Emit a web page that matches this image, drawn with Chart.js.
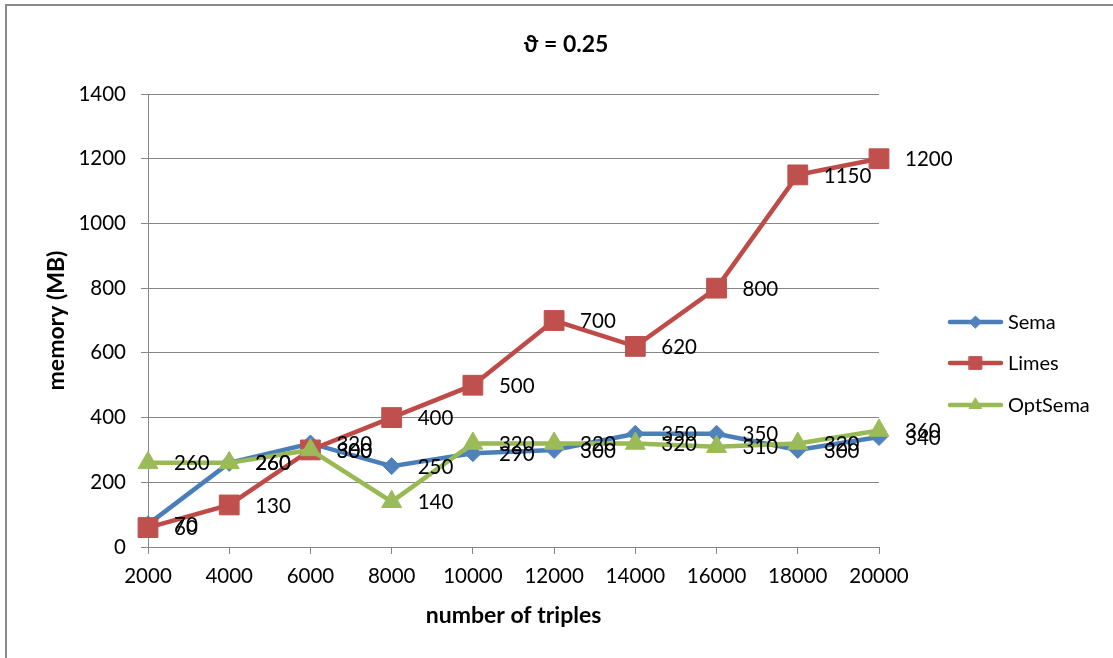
<!DOCTYPE html>
<html>
<head>
<meta charset="utf-8">
<title>Memory usage, ϑ = 0.25</title>
<script src="https://cdn.jsdelivr.net/npm/chart.js@4.4.1/dist/chart.umd.min.js"></script>
<style>
  html, body { margin: 0; padding: 0; background: #ffffff; }
  #wrap { position: relative; width: 1113px; height: 658px; }
  canvas { display: block; }
</style>
</head>
<body>
<div id="wrap"><canvas id="chart" width="1113" height="658"></canvas></div>
<script>
// Number of triples on the category axis
const triples = ['2000', '4000', '6000', '8000', '10000', '12000', '14000', '16000', '18000', '20000'];

// Memory consumption in MB per approach
const semaMemory = [70, 260, 320, 250, 290, 300, 350, 350, 300, 340];
const limesMemory = [60, 130, 300, 400, 500, 700, 620, 800, 1150, 1200];
const optSemaMemory = [260, 260, 300, 140, 320, 320, 320, 310, 320, 360];

// Value axis ticks
const memoryTicks = [0, 200, 400, 600, 800, 1000, 1200, 1400];

const chartTitle = 'ϑ = 0.25';
const xTitle = 'number of triples';
const yTitle = 'memory (MB)';

const FONT = "Lato, 'DejaVu Sans', sans-serif";
const GRID = '#868686';
const TICK_SIZE = 20.5;
const AXIS_TITLE_SIZE = 23;

const series = [
  { label: 'Sema',    data: semaMemory,    line: '#4A7EBB', fill: '#4F81BD', style: 'rectRot',  radius: 8.5,  legendRadius: 6, order: 2 },
  { label: 'Limes',   data: limesMemory,   line: '#BE4B48', fill: '#C0504D', style: 'rect',     radius: 14,   legendRadius: 9, order: 1 },
  { label: 'OptSema', data: optSemaMemory, line: '#98B954', fill: '#9BBB59', style: 'triangle', radius: 11.5, legendRadius: 7, order: 0 }
];

// White page with the frame line along the top and left edge
const framePlugin = {
  id: 'frame',
  beforeDraw(chart) {
    const ctx = chart.ctx;
    ctx.save();
    ctx.fillStyle = '#ffffff';
    ctx.fillRect(0, 0, chart.width, chart.height);
    ctx.strokeStyle = '#898989';
    ctx.lineWidth = 2;
    ctx.beginPath();
    ctx.moveTo(6, chart.height + 5);
    ctx.lineTo(6, 5);
    ctx.lineTo(chart.width + 5, 5);
    ctx.stroke();
    ctx.restore();
  }
};

// Chart heading
const headingPlugin = {
  id: 'heading',
  afterDraw(chart) {
    const ctx = chart.ctx;
    ctx.save();
    ctx.font = 'bold 23px ' + FONT;
    ctx.fillStyle = '#000000';
    ctx.textAlign = 'center';
    ctx.textBaseline = 'middle';
    ctx.fillText(chartTitle, 566, 45);
    ctx.restore();
  }
};

// Value labels to the right of every point
const valueLabelPlugin = {
  id: 'valueLabels',
  afterDatasetsDraw(chart) {
    const ctx = chart.ctx;
    ctx.save();
    ctx.font = TICK_SIZE + 'px ' + FONT;
    ctx.fillStyle = '#000000';
    ctx.textAlign = 'left';
    ctx.textBaseline = 'middle';
    chart.data.datasets.forEach((ds, i) => {
      const meta = chart.getDatasetMeta(i);
      meta.data.forEach((pt, j) => {
        ctx.fillText(String(ds.data[j]), pt.x + 26, pt.y + 1);
      });
    });
    ctx.restore();
  }
};

// Legend on the right: line sample with marker, then the series name
const sideLegendPlugin = {
  id: 'sideLegend',
  afterDraw(chart) {
    const ctx = chart.ctx;
    const rows = [322, 363, 405];
    ctx.save();
    series.forEach((s, i) => {
      const y = rows[i];
      ctx.strokeStyle = s.line;
      ctx.lineWidth = 4.5;
      ctx.lineCap = 'round';
      ctx.beginPath();
      ctx.moveTo(950, y);
      ctx.lineTo(1001, y);
      ctx.stroke();
      ctx.fillStyle = s.fill;
      ctx.strokeStyle = s.fill;
      ctx.lineWidth = 1;
      Chart.helpers.drawPoint(ctx, {
        pointStyle: s.style, radius: s.legendRadius, rotation: 0, borderWidth: 1
      }, 975.5, y);
      ctx.fillStyle = '#000000';
      ctx.font = '20px ' + FONT;
      ctx.textAlign = 'left';
      ctx.textBaseline = 'middle';
      ctx.fillText(s.label, 1008, y + 1);
    });
    ctx.restore();
  }
};

const datasets = series.map(s => ({
  label: s.label,
  data: s.data,
  borderColor: s.line,
  backgroundColor: s.fill,
  borderWidth: 4.5,
  pointStyle: s.style,
  pointRadius: s.radius,
  pointHoverRadius: s.radius,
  pointBackgroundColor: s.fill,
  pointBorderColor: s.fill,
  pointBorderWidth: 1,
  tension: 0,
  fill: false,
  order: s.order
}));

new Chart(document.getElementById('chart'), {
  type: 'line',
  data: { labels: triples, datasets },
  options: {
    responsive: false,
    animation: false,
    devicePixelRatio: 1,
    layout: { padding: { top: 94, right: 234, bottom: 0, left: 0 } },
    plugins: {
      legend: { display: false },
      title: { display: false },
      tooltip: { enabled: false }
    },
    scales: {
      x: {
        type: 'category',
        offset: false,
        afterFit(scale) { scale.height = 111; },
        grid: {
          drawOnChartArea: false,
          drawTicks: true,
          tickLength: 7,
          color: GRID,
          lineWidth: 1
        },
        border: { display: true, color: GRID, width: 1 },
        ticks: {
          color: '#000000',
          font: { family: FONT, size: TICK_SIZE },
          padding: 10,
          maxRotation: 0,
          autoSkip: false
        },
        title: {
          display: true,
          text: xTitle,
          color: '#000000',
          font: { family: FONT, size: AXIS_TITLE_SIZE, weight: 'bold' },
          padding: { top: 0, bottom: 29 }
        }
      },
      y: {
        type: 'linear',
        min: memoryTicks[0],
        max: memoryTicks[memoryTicks.length - 1],
        afterFit(scale) { scale.width = 148; },
        afterBuildTicks(scale) { scale.ticks = memoryTicks.map(v => ({ value: v })); },
        grid: {
          color: GRID,
          lineWidth: 1,
          drawTicks: true,
          tickLength: 7
        },
        border: { display: true, color: GRID, width: 1 },
        ticks: {
          color: '#000000',
          font: { family: FONT, size: TICK_SIZE },
          padding: 15,
          callback: v => String(v)
        },
        title: {
          display: true,
          text: yTitle,
          color: '#000000',
          font: { family: FONT, size: AXIS_TITLE_SIZE, weight: 'bold' },
          padding: { top: 43, bottom: 0 }
        }
      }
    }
  },
  plugins: [framePlugin, valueLabelPlugin, sideLegendPlugin, headingPlugin]
});
</script>
</body>
</html>
